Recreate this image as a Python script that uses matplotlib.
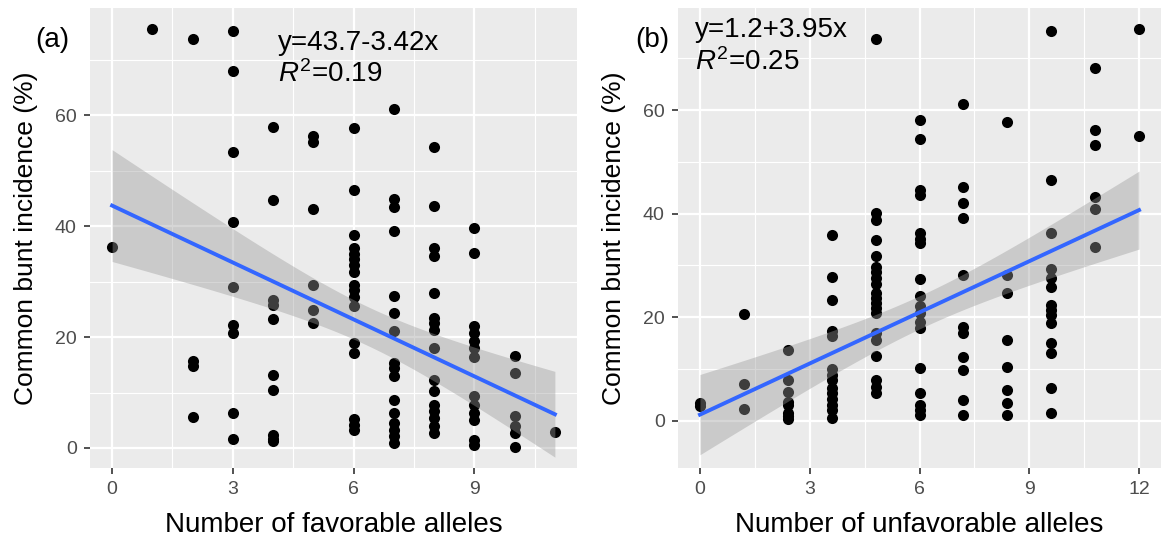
import numpy as np
import matplotlib
matplotlib.use('Agg')
import matplotlib.pyplot as plt
from matplotlib.ticker import MultipleLocator

plt.rcParams['font.family'] = ['Liberation Sans', 'DejaVu Sans']
plt.rcParams['mathtext.fontset'] = 'custom'
plt.rcParams['mathtext.rm'] = 'Liberation Sans'
plt.rcParams['mathtext.it'] = 'Liberation Sans:italic'

# (a) favorable alleles -> incidence values per allele count
fav_counts = [0, 1, 2, 3, 4, 5, 6, 7, 8, 9, 10, 11]
fav_incidence = [
    [36.2],
    [75.5],
    [73.7, 15.6, 14.7, 5.5],
    [75.1, 68.0, 53.3, 40.8, 29.0, 22.2, 20.7, 6.3, 1.6],
    [57.9, 44.7, 26.7, 25.8, 23.2, 13.1, 10.5, 2.4, 1.6, 1.2],
    [56.3, 55.2, 43.1, 29.3, 24.8, 22.5],
    [57.7, 46.5, 38.4, 36.0, 35.0, 34.0, 33.0, 31.8, 29.4, 28.4, 27.3, 25.6,
     18.9, 17.2, 5.2, 4.2, 3.3],
    [61.1, 44.9, 43.5, 39.2, 27.4, 24.3, 21.1, 15.4, 14.4, 12.9, 8.7, 6.3,
     4.5, 3.3, 2.1, 0.9],
    [54.3, 43.7, 36.0, 34.6, 28.0, 23.4, 22.5, 21.3, 18.1, 12.3, 10.2, 7.8,
     6.6, 5.4, 3.9, 2.7],
    [39.6, 35.1, 22.0, 20.7, 19.2, 18.0, 16.4, 9.3, 7.8, 6.3, 5.0, 1.4, 0.6],
    [16.6, 13.6, 5.7, 3.9, 2.7, 0.2],
    [2.9],
]
fav_fit = (43.7, -3.42)     # intercept, slope per allele
fav_r2 = '0.19'

# (b) unfavorable alleles, x positions as drawn on the axis (1.2 units per allele)
unfav_pos = [0, 1.2, 2.4, 3.6, 4.8, 6, 7.2, 8.4, 9.6, 10.8, 12]
unfav_step = 1.2
unfav_incidence = [
    [3.4, 2.8],
    [20.6, 7.2, 2.2],
    [13.7, 7.9, 5.6, 3.7, 3.0, 1.5, 0.9, 0.3],
    [35.9, 27.7, 23.3, 17.3, 16.4, 10.1, 8.8, 7.9, 6.3, 5.3, 4.3, 3.0, 2.1, 0.5],
    [73.8, 40.1, 38.8, 34.9, 31.8, 29.8, 28.8, 27.5, 26.5, 24.6, 23.7, 22.7,
     21.7, 20.8, 16.9, 15.6, 12.5, 7.9, 6.6, 5.3],
    [58.1, 54.4, 44.6, 43.6, 36.2, 35.2, 34.3, 27.3, 24.1, 22.2, 20.8, 19.1,
     17.9, 10.3, 5.4, 3.0, 2.1, 1.1],
    [61.2, 45.1, 42.1, 39.2, 28.2, 18.2, 16.9, 12.3, 9.9, 4.1, 1.2],
    [57.8, 28.2, 24.7, 15.6, 10.4, 5.9, 3.4, 1.2],
    [75.2, 46.6, 36.2, 29.3, 27.5, 25.8, 22.4, 21.4, 20.4, 18.8, 15.0, 13.1,
     6.4, 1.6],
    [68.1, 56.2, 53.3, 43.3, 40.9, 33.5],
    [75.6, 55.0],
]
unfav_fit = (1.2, 3.95)
unfav_r2 = '0.25'

panels = [
    dict(x=fav_counts, y=fav_incidence, fit=fav_fit, step=1.0, r2=fav_r2,
         xlabel='Number of favorable alleles', tag='(a)', xticks=[0, 3, 6, 9],
         xlim=(-0.55, 11.55), ylim=(-3.6, 79.3), eqpos=(0.386, 0.909, 0.840),
         rect=[0.0775, 0.135, 0.4195, 0.85], tagx=0.030),
    dict(x=unfav_pos, y=unfav_incidence, fit=unfav_fit, step=unfav_step, r2=unfav_r2,
         xlabel='Number of unfavorable alleles', tag='(b)', xticks=[0, 3, 6, 9, 12],
         xlim=(-0.6, 12.6), ylim=(-9.1, 79.7), eqpos=(0.035, 0.937, 0.865),
         rect=[0.584, 0.135, 0.416, 0.85], tagx=0.547),
]

fig = plt.figure(figsize=(11.61, 5.41), dpi=100)

for p in panels:
    xs = np.concatenate([[xv] * len(ys) for xv, ys in zip(p['x'], p['y'])])
    ys = np.concatenate(p['y'])

    ax = fig.add_axes(p['rect'])
    ax.set_facecolor('#EBEBEB')
    for s in ax.spines.values():
        s.set_visible(False)

    ax.scatter(xs, ys, s=64, color='black', zorder=3, linewidths=0)

    # regression line from the reported equation, 95% band from residuals
    icpt, b = p['fit']
    slope = b / p['step']
    n = len(xs)
    resid = ys - (icpt + slope * xs)
    sigma = np.sqrt(np.sum(resid ** 2) / (n - 2))
    grid = np.linspace(xs.min(), xs.max(), 80)
    se = sigma * np.sqrt(1 / n + (grid - xs.mean()) ** 2 / np.sum((xs - xs.mean()) ** 2))
    fit = icpt + slope * grid
    ax.fill_between(grid, fit - 1.977 * se, fit + 1.977 * se, color='#999999',
                    alpha=0.4, linewidth=0, zorder=4)
    ax.plot(grid, fit, color='#3366FF', linewidth=2.8, zorder=5)

    ax.set_xlim(p['xlim'])
    ax.set_ylim(p['ylim'])
    ax.set_xticks(p['xticks'])
    ax.set_yticks([0, 20, 40, 60])
    ax.xaxis.set_minor_locator(MultipleLocator(1.5))
    ax.yaxis.set_minor_locator(MultipleLocator(10))
    ax.grid(which='major', color='white', linewidth=1.6, zorder=0)
    ax.grid(which='minor', color='white', linewidth=0.8, zorder=0)
    ax.set_axisbelow(True)
    ax.tick_params(which='major', length=4.5, width=1.2, color='#333333',
                   labelsize=14, labelcolor='#4D4D4D', pad=5)
    ax.tick_params(which='minor', length=0)

    ax.set_xlabel(p['xlabel'], fontsize=20, labelpad=10)
    ax.set_ylabel('Common bunt incidence (%)', fontsize=19, labelpad=12)

    ex, ey, ry = p['eqpos']
    eq = 'y=%.1f%s%.2fx' % (icpt, '+' if b >= 0 else '-', abs(b))
    ax.text(ex, ey, eq, transform=ax.transAxes, fontsize=20, va='baseline', ha='left')
    ax.text(ex, ry, r'$R^{2}$=' + p['r2'], transform=ax.transAxes,
            fontsize=20, va='baseline', ha='left')
    fig.text(p['tagx'], 0.926, p['tag'], fontsize=20, va='center', ha='left')

fig.savefig('out.png', dpi=100)
